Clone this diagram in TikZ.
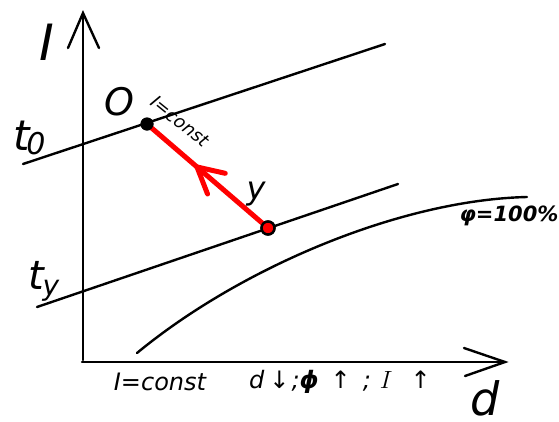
\documentclass[tikz,border=0pt]{standalone}
\usepackage{fontspec}
\usetikzlibrary{calc}
\newfontfamily\gost{DejaVu Sans}
\tikzset{
  ln/.style={line width=2.4pt, black, line cap=round},
  redln/.style={line width=5pt, red, line cap=round},
  lbl/.style={inner sep=0pt, font=\gost\itshape},
  dotblack/.style={circle, fill=black, minimum size=13pt, inner sep=0pt},
  dotred/.style={circle, fill=red, draw=black, line width=2.4pt, minimum size=13pt, inner sep=0pt},
}
\begin{document}
\begin{tikzpicture}[x=1pt, y=-1pt]
\useasboundingbox (0,0) rectangle (559,421);
% axes
\coordinate (org) at (82,362);
\coordinate (ytip) at (83,13);
\coordinate (xtip) at (505,362);
\coordinate (ya1) at (68,48);
\coordinate (ya2) at (99,48);
\coordinate (xa1) at (464,348);
\coordinate (xa2) at (465,376);
\draw[ln] (83,360) -- (ytip);
\draw[ln] (ya1) -- (ytip) -- (ya2);
\draw[ln] (org) -- (xtip);
\draw[ln] (xa1) -- (xtip) -- (xa2);
% constant-t lines
\coordinate (t0a) at (23,164);
\coordinate (t0b) at (385,44);
\coordinate (tya) at (37,307);
\coordinate (tyb) at (398,184);
\draw[ln] (t0a) -- (t0b);
\draw[ln] (tya) -- (tyb);
% phi = 100% curve
\coordinate (ca) at (137,353);
\coordinate (cb) at (527,197);
\draw[ln] (ca) .. controls (240,268) and (400,200) .. (cb);
% points
\node[dotred] (Y) at (268,228) {};
\node[dotblack] (O) at (147,124) {};
\draw[redln] (Y.center) -- (O.center);
\coordinate (tip) at ($(Y.center)!0.587!(O.center)$);
\draw[redln] ($(tip)!29pt!28:(Y.center)$) -- (tip) -- ($(tip)!29pt!-28:(Y.center)$);
\node[dotred] at (Y) {};
\node[dotblack] at (O) {};
% labels
\node[lbl, font=\gost\itshape\fontsize{50}{50}\selectfont] (lI) at (47,42) {I};
\node[lbl, font=\gost\itshape\fontsize{38}{38}\selectfont] (lO) at (119,102) {O};
\node[lbl, font=\gost\itshape\fontsize{42}{42}\selectfont] (lt0) at (22,136) {t};
\node[lbl, font=\gost\itshape\fontsize{30}{30}\selectfont] (l0) at (36,144) {0};
\node[lbl, font=\gost\itshape\fontsize{40}{40}\selectfont] (lty) at (36,275) {t};
\node[lbl, font=\gost\itshape\fontsize{28}{28}\selectfont] (lyy) at (51,291) {y};
\node[lbl, font=\gost\itshape\fontsize{32}{32}\selectfont] (ly) at (256,194) {y};
\node[lbl, font=\gost\itshape\fontsize{46}{46}\selectfont] (ld) at (485,398) {d};
\node[lbl, font=\gost\itshape\fontsize{18}{18}\selectfont, rotate=-39] (lc) at (180,121) {I=const};
\node[lbl, font=\gost\bfseries\itshape\fontsize{21}{21}\selectfont] (lphi) at (509,216) {φ=100\%};
\node[lbl, font=\gost\itshape\fontsize{24}{24}\selectfont] (lb1) at (160,382) {I=const};
\node[lbl, anchor=west, font=\gost\itshape\fontsize{24}{24}\selectfont] (lb2) at (249,382) {d\hspace{5pt}↓\hspace{2pt};\textbf{ϕ}\hspace{12pt}↑\hspace{12pt};\hspace{9pt}\normalfont\fontsize{24}{24}\selectfont$I$\gost\itshape\hspace{18pt}↑};
\end{tikzpicture}
\end{document}
